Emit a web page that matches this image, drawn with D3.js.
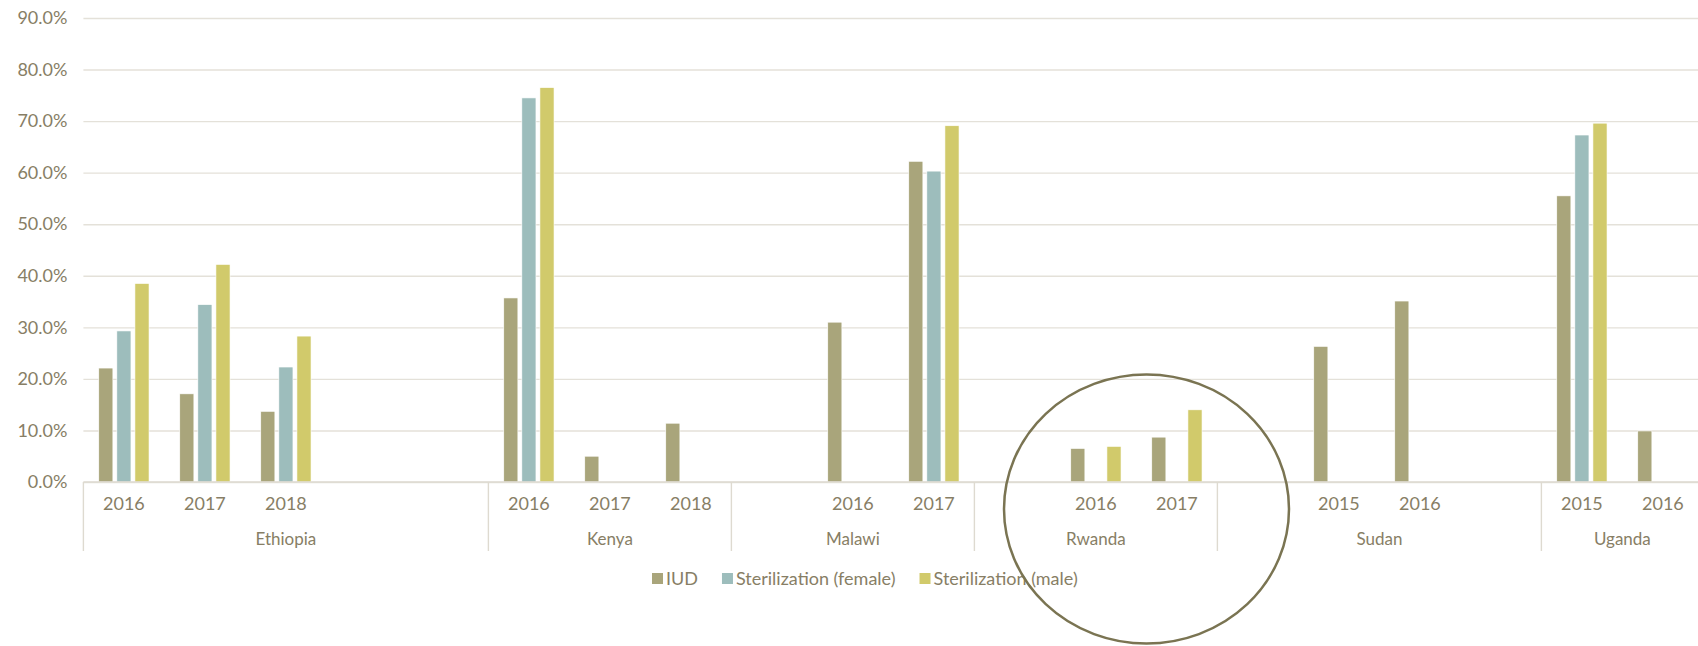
<!DOCTYPE html>
<html>
<head>
<meta charset="utf-8">
<script src="https://d3js.org/d3.v7.min.js"></script>
<style>
  body { margin: 0; background: #fff; overflow: hidden; }
  text { font-family: Lato, "DejaVu Sans", sans-serif; fill: #877e65; }
</style>
</head>
<body>
<script>
// countries and the year slots under each one ("" = empty slot, like in the excel sheet)
var countries = ["Ethiopia", "Kenya", "Malawi", "Rwanda", "Sudan", "Uganda"];
var years = [
  ["2016", "2017", "2018", "", ""],
  ["2016", "2017", "2018"],
  ["", "2016", "2017"],
  ["", "2016", "2017"],
  ["", "2015", "2016", ""],
  ["2015", "2016"]
];
var seriesNames = ["IUD", "Sterilization (female)", "Sterilization (male)"];
var colors = ["#a9a57b", "#9dbdbc", "#d1ca6b"];

// values in %, one per year slot, in the same order as above
var iud    = [22.1, 17.1, 13.7, null, null, 35.7, 5.0, 11.4, null, 31.0, 62.2, null, 6.5, 8.7, null, 26.3, 35.1, null, 55.5, 9.9];
var female = [29.3, 34.4, 22.3, null, null, 74.5, null, null, null, null, 60.3, null, null, null, null, null, null, null, 67.3, null];
var male   = [38.5, 42.2, 28.3, null, null, 76.5, null, null, null, null, 69.1, null, 6.9, 14.0, null, null, null, null, 69.6, null];
var yTicks = [0, 10, 20, 30, 40, 50, 60, 70, 80, 90];

var W = 1698, H = 646;
// plot runs a little past the right edge, like the original (it gets clipped)
var plotLeft = 83.4, plotRight = 1703.4, plotTop = 18, plotBottom = 482;

// flatten the slots
var slots = [];
countries.forEach(function(c, ci) {
  years[ci].forEach(function(yr, yi) {
    slots.push({id: c + "_" + yi, country: c, year: yr});
  });
});
var allValues = [iud, female, male];

var svg = d3.select("body")
  .append("svg")
  .attr("width", W)
  .attr("height", H);

var y = d3.scaleLinear().domain([0, 90]).range([plotBottom, plotTop]);
var x0 = d3.scaleBand().domain(slots.map(function(d) { return d.id; })).range([plotLeft, plotRight]).padding(0);
var x1 = d3.scaleBand().domain(seriesNames).range([0, x0.bandwidth()]).paddingInner(0.22).paddingOuter(0.85);

// grid
svg.append("g")
  .attr("transform", "translate(" + plotLeft + ",0)")
  .call(d3.axisLeft(y).tickValues(yTicks).tickSize(-(plotRight - plotLeft)).tickFormat(function(d) { return d.toFixed(1) + "%"; }))
  .call(function(g) {
    g.select(".domain").remove();
    g.selectAll(".tick line").attr("stroke", "#e4e1d9").attr("stroke-width", 1.4);
    g.selectAll(".tick text").attr("x", -16).attr("font-size", "18px")
      .style("font-family", "Lato, sans-serif").style("fill", "#877e65");
  });

// bars
seriesNames.forEach(function(s, si) {
  var data = slots.map(function(d, i) { return {slot: d.id, v: allValues[si][i]}; })
    .filter(function(d) { return d.v != null; });
  svg.append("g")
    .selectAll("rect")
    .data(data)
    .enter()
    .append("rect")
    .attr("x", function(d) { return x0(d.slot) + x1(s); })
    .attr("y", function(d) { return y(d.v); })
    .attr("width", x1.bandwidth())
    .attr("height", function(d) { return plotBottom - y(d.v); })
    .attr("fill", colors[si])
    .attr("stroke", "#fff")
    .attr("stroke-width", 0.6);
});

// category axis
svg.append("line")
  .attr("x1", plotLeft).attr("x2", plotRight)
  .attr("y1", plotBottom).attr("y2", plotBottom)
  .attr("stroke", "#dedad0").attr("stroke-width", 1.6);

svg.append("g")
  .selectAll("text")
  .data(slots.filter(function(d) { return d.year != ""; }))
  .enter()
  .append("text")
  .attr("x", function(d) { return x0(d.id) + x0.bandwidth() / 2; })
  .attr("y", 510)
  .attr("text-anchor", "middle")
  .attr("font-size", "18px")
  .text(function(d) { return d.year; });

// country groups
var groups = countries.map(function(c) {
  var own = slots.filter(function(d) { return d.country == c; });
  return {name: c, x1: x0(own[0].id), x2: x0(own[own.length - 1].id) + x0.bandwidth()};
});
svg.append("g")
  .selectAll("line")
  .data(groups)
  .enter()
  .append("line")
  .attr("x1", function(d) { return d.x1; })
  .attr("x2", function(d) { return d.x1; })
  .attr("y1", plotBottom)
  .attr("y2", 551)
  .attr("stroke", "#dedad0")
  .attr("stroke-width", 1.4);
svg.append("g")
  .selectAll("text")
  .data(groups)
  .enter()
  .append("text")
  .attr("x", function(d) { return (d.x1 + d.x2) / 2; })
  .attr("y", 545)
  .attr("text-anchor", "middle")
  .attr("font-size", "17px")
  .text(function(d) { return d.name; });

// legend
var lx = 652;
seriesNames.forEach(function(s, si) {
  svg.append("rect")
    .attr("x", lx).attr("y", 573)
    .attr("width", 11).attr("height", 11)
    .attr("fill", colors[si]);
  var t = svg.append("text")
    .attr("x", lx + 14)
    .attr("y", 585)
    .attr("font-size", "18px")
    .text(s);
  lx = lx + 14 + t.node().getComputedTextLength() + 24;
});

// highlight ring around Rwanda
svg.append("ellipse")
  .attr("cx", 1146.5)
  .attr("cy", 509)
  .attr("rx", 142.5)
  .attr("ry", 134.5)
  .attr("fill", "none")
  .attr("stroke", "#7a7452")
  .attr("stroke-width", 2.5);
</script>
</body>
</html>
